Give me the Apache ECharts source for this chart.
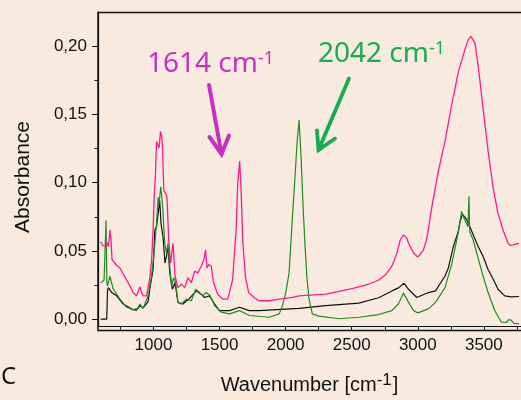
<!DOCTYPE html>
<html>
<head>
<meta charset="utf-8">
<script src="https://cdn.jsdelivr.net/npm/echarts@6/dist/echarts.min.js"></script>
<style>
  html, body { margin: 0; padding: 0; background: #f9eae0; }
  #ir-chart { width: 521px; height: 400px; }
</style>
</head>
<body>
<div id="ir-chart"></div>
<script>
// tick positions
const wavenumberTicks = [1000, 1500, 2000, 2500, 3000, 3500];
const wavenumberMinorTicks = [750, 1250, 1750, 2250, 2750, 3250, 3750];
const absorbanceTicks = [0, 0.05, 0.10, 0.15, 0.20];
const absorbanceMinorTicks = [0.025, 0.075, 0.125, 0.175];

// spectra: [wavenumber, absorbance]
const pinkSpectrum = [
  [601, 0.0568], [614, 0.0540], [626, 0.0547], [641, 0.0532], [651, 0.0561], [658, 0.0532],
  [671, 0.0653], [679, 0.0568], [686, 0.0436], [721, 0.0395], [746, 0.0375], [771, 0.0330],
  [797, 0.0287], [822, 0.0243], [846, 0.0193], [872, 0.0171], [884, 0.0178], [897, 0.0238],
  [908, 0.0200], [922, 0.0171], [947, 0.0171], [959, 0.0229], [972, 0.0301], [985, 0.0424],
  [997, 0.0655], [1005, 0.0893], [1015, 0.1061], [1023, 0.1302], [1035, 0.1314], [1042, 0.1254],
  [1053, 0.1375], [1060, 0.1348], [1068, 0.1278], [1078, 0.0941], [1093, 0.0917], [1102, 0.0893],
  [1115, 0.0580], [1130, 0.0412], [1148, 0.0556], [1163, 0.0316], [1185, 0.0231], [1211, 0.0256],
  [1236, 0.0231], [1261, 0.0303], [1286, 0.0267], [1311, 0.0352], [1336, 0.0339], [1361, 0.0388],
  [1381, 0.0436], [1394, 0.0508], [1404, 0.0375], [1419, 0.0400], [1437, 0.0388], [1454, 0.0267],
  [1486, 0.0183], [1524, 0.0147], [1562, 0.0147], [1599, 0.0292], [1625, 0.0653], [1637, 0.0989],
  [1652, 0.1158], [1663, 0.0941], [1675, 0.0580], [1695, 0.0316], [1720, 0.0195], [1763, 0.0157],
  [1800, 0.0135], [1876, 0.0135], [1951, 0.0147], [2051, 0.0159], [2102, 0.0171], [2303, 0.0183],
  [2503, 0.0224], [2629, 0.0256], [2704, 0.0287], [2754, 0.0323], [2804, 0.0388], [2842, 0.0482],
  [2867, 0.0580], [2892, 0.0617], [2915, 0.0597], [2930, 0.0556], [2968, 0.0484], [3000, 0.0455],
  [3043, 0.0508], [3066, 0.0583], [3081, 0.0662], [3106, 0.0821], [3156, 0.1086], [3206, 0.1302],
  [3256, 0.1567], [3306, 0.1808], [3357, 0.1976], [3382, 0.2048], [3402, 0.2072], [3432, 0.2024],
  [3457, 0.1856], [3494, 0.1543], [3532, 0.1230], [3570, 0.0965], [3607, 0.0773], [3645, 0.0653],
  [3683, 0.0556], [3700, 0.0540], [3721, 0.0544], [3740, 0.0550], [3766, 0.0556]
];

const blackSpectrum = [
  [601, 0.0000], [646, 0.0000], [652, 0.0207], [658, 0.0231], [684, 0.0195], [721, 0.0171],
  [771, 0.0111], [846, 0.0068], [882, 0.0077], [897, 0.0099], [922, 0.0082], [959, 0.0128],
  [972, 0.0219], [997, 0.0364], [1010, 0.0653], [1023, 0.0677], [1035, 0.0773], [1047, 0.0869],
  [1057, 0.0700], [1072, 0.0604], [1087, 0.0412], [1098, 0.0460], [1110, 0.0532], [1123, 0.0339],
  [1143, 0.0219], [1163, 0.0267], [1185, 0.0123], [1223, 0.0111], [1261, 0.0142], [1324, 0.0207],
  [1361, 0.0183], [1386, 0.0159], [1424, 0.0171], [1462, 0.0111], [1499, 0.0063], [1575, 0.0063],
  [1650, 0.0087], [1725, 0.0063], [1800, 0.0063], [2102, 0.0079], [2303, 0.0099], [2553, 0.0118],
  [2704, 0.0157], [2804, 0.0207], [2854, 0.0229], [2896, 0.0263], [2930, 0.0219], [2992, 0.0159],
  [3081, 0.0195], [3134, 0.0207], [3206, 0.0316], [3231, 0.0375], [3269, 0.0532], [3306, 0.0640],
  [3319, 0.0713], [3339, 0.0768], [3367, 0.0734], [3394, 0.0677], [3419, 0.0619], [3457, 0.0532],
  [3494, 0.0460], [3532, 0.0364], [3570, 0.0294], [3607, 0.0219], [3658, 0.0171], [3706, 0.0164],
  [3766, 0.0166]
];

const greenSpectrum = [
  [601, 0.0267], [626, 0.0287], [637, 0.0294], [641, 0.0725], [647, 0.0279], [651, 0.0243],
  [671, 0.0315], [683, 0.0265], [696, 0.0219], [746, 0.0147], [797, 0.0087], [872, 0.0063],
  [897, 0.0111], [922, 0.0079], [959, 0.0171], [985, 0.0316], [1002, 0.0460], [1023, 0.0700],
  [1035, 0.0893], [1042, 0.0845], [1055, 0.0970], [1068, 0.0845], [1078, 0.0677], [1085, 0.0556],
  [1098, 0.0484], [1110, 0.0556], [1123, 0.0388], [1136, 0.0243], [1153, 0.0303], [1168, 0.0267],
  [1185, 0.0123], [1211, 0.0111], [1248, 0.0147], [1286, 0.0135], [1319, 0.0219], [1349, 0.0195],
  [1373, 0.0171], [1399, 0.0195], [1429, 0.0171], [1462, 0.0099], [1512, 0.0051], [1575, 0.0039],
  [1650, 0.0063], [1725, 0.0027], [1876, 0.0014], [1951, 0.0039], [1976, 0.0099], [2001, 0.0195],
  [2026, 0.0339], [2041, 0.0580], [2056, 0.0821], [2072, 0.1061], [2087, 0.1302], [2102, 0.1458],
  [2117, 0.1182], [2132, 0.0821], [2147, 0.0532], [2162, 0.0292], [2177, 0.0147], [2202, 0.0039],
  [2252, 0.0022], [2403, 0.0003], [2553, 0.0014], [2704, 0.0034], [2804, 0.0063], [2854, 0.0113],
  [2892, 0.0191], [2930, 0.0123], [2968, 0.0063], [3000, 0.0046], [3081, 0.0075], [3134, 0.0123],
  [3206, 0.0231], [3256, 0.0402], [3306, 0.0633], [3331, 0.0788], [3357, 0.0725], [3380, 0.0677],
  [3387, 0.0900], [3393, 0.0640], [3419, 0.0580], [3457, 0.0445], [3494, 0.0316], [3532, 0.0195],
  [3582, 0.0063], [3632, -0.0022], [3668, -0.0024], [3691, -0.0002], [3708, -0.0009], [3728, -0.0031],
  [3766, -0.0033]
];

const xMin = 580, xMax = 3781;
const yMin = -0.005, yMax = 0.225;

const myChart = echarts.init(document.getElementById('ir-chart'));

const axisFont = { fontFamily: 'Liberation Sans', fontSize: 17, color: '#111' };

const option = {
  backgroundColor: '#f9eae0',
  animation: false,
  grid: { left: 98, right: -2, top: 12, bottom: 69 },
  xAxis: [
    {
      type: 'value', position: 'bottom', min: xMin, max: xMax,
      axisLine: { onZero: false, lineStyle: { color: '#111', width: 1.2 } },
      axisTick: { customValues: wavenumberTicks, length: 5, lineStyle: { color: '#111' } },
      axisLabel: Object.assign({ customValues: wavenumberTicks, margin: 11, formatter: v => String(v) }, axisFont),
      splitLine: { show: false },
      name: '{a|Wavenumber [cm}{s|-1}{a|]}',
      nameLocation: 'middle',
      nameGap: 46,
      nameTextStyle: {
        rich: {
          a: { fontFamily: 'Liberation Sans', fontSize: 20, color: '#111', verticalAlign: 'bottom' },
          s: { fontFamily: 'Liberation Sans', fontSize: 17, color: '#111', verticalAlign: 'top', padding: [0, 1, 6, 0] }
        }
      }
    },
    {
      type: 'value', position: 'bottom', min: xMin, max: xMax,
      axisLine: { show: false, onZero: false },
      axisTick: { customValues: wavenumberMinorTicks, length: 3.5, lineStyle: { color: '#111' } },
      axisLabel: { show: false },
      splitLine: { show: false }
    }
  ],
  yAxis: [
    {
      type: 'value', position: 'left', min: yMin, max: yMax,
      axisLine: { show: true, onZero: false, lineStyle: { color: '#111', width: 1.2 } },
      axisTick: { show: true, customValues: absorbanceTicks, length: 6, lineStyle: { color: '#111' } },
      axisLabel: Object.assign({
        customValues: absorbanceTicks, margin: 11,
        formatter: v => v.toFixed(2).replace('.', ',')
      }, axisFont),
      splitLine: { show: false }
    },
    {
      type: 'value', position: 'left', min: yMin, max: yMax,
      axisLine: { show: false, onZero: false },
      axisTick: { show: true, customValues: absorbanceMinorTicks, length: 3.5, lineStyle: { color: '#111' } },
      axisLabel: { show: false },
      splitLine: { show: false }
    }
  ],
  series: [
    {
      name: 'black', type: 'line', showSymbol: false, data: blackSpectrum,
      lineStyle: { color: '#111111', width: 1.2 }
    },
    {
      name: 'green', type: 'line', showSymbol: false, data: greenSpectrum,
      lineStyle: { color: '#1e8c1e', width: 1.2 }
    },
    {
      name: 'pink', type: 'line', showSymbol: false, data: pinkSpectrum,
      lineStyle: { color: '#ff1a8c', width: 1.3 }
    }
  ],
  graphic: [
    // plot box frame (its right side falls outside the canvas)
    {
      type: 'rect', z: 100, silent: true,
      shape: { x: 98, y: 12.5, width: 440, height: 318 },
      style: { fill: 'none', stroke: '#111111', lineWidth: 1.5 }
    },
    {
      type: 'text', x: 23.5, y: 177, rotation: Math.PI / 2,
      style: {
        text: 'Absorbance', fontFamily: 'Liberation Sans', fontSize: 21, fill: '#111',
        textAlign: 'center', textVerticalAlign: 'middle'
      }
    },
    {
      type: 'text', x: 1, y: 377,
      style: {
        text: 'C', fontFamily: 'Noto Sans', fontSize: 24, fill: '#111',
        textAlign: 'left', textVerticalAlign: 'middle'
      }
    },
    {
      type: 'text', x: 147, y: 64,
      style: {
        text: '{n|1614 cm}{s|-1}', textAlign: 'left', textVerticalAlign: 'middle',
        rich: {
          n: { fontFamily: 'Noto Sans', fontSize: 28, fill: '#c433bf', verticalAlign: 'bottom' },
          s: { fontFamily: 'Noto Sans', fontSize: 18, fill: '#c433bf', verticalAlign: 'top' }
        }
      }
    },
    {
      type: 'text', x: 318, y: 54,
      style: {
        text: '{n|2042 cm}{s|-1}', textAlign: 'left', textVerticalAlign: 'middle',
        rich: {
          n: { fontFamily: 'Noto Sans', fontSize: 28, fill: '#16ac50', verticalAlign: 'bottom' },
          s: { fontFamily: 'Noto Sans', fontSize: 18, fill: '#16ac50', verticalAlign: 'top' }
        }
      }
    },
    // magenta arrow
    {
      type: 'polyline',
      shape: { points: [[209, 85], [221.5, 154]] },
      style: { stroke: '#c433bf', lineWidth: 4, lineCap: 'round' }
    },
    {
      type: 'polyline',
      shape: { points: [[209.5, 137], [221.5, 154], [229, 135.5]] },
      style: { stroke: '#c433bf', lineWidth: 4, lineCap: 'round', lineJoin: 'miter', fill: null }
    },
    // green arrow
    {
      type: 'polyline',
      shape: { points: [[349, 78.5], [318.5, 150]] },
      style: { stroke: '#16ac50', lineWidth: 3.8, lineCap: 'round' }
    },
    {
      type: 'polyline',
      shape: { points: [[317, 130.5], [318.5, 150], [335, 138.5]] },
      style: { stroke: '#16ac50', lineWidth: 3.8, lineCap: 'round', lineJoin: 'miter', fill: null }
    }
  ]
};

myChart.setOption(option);
</script>
</body>
</html>
